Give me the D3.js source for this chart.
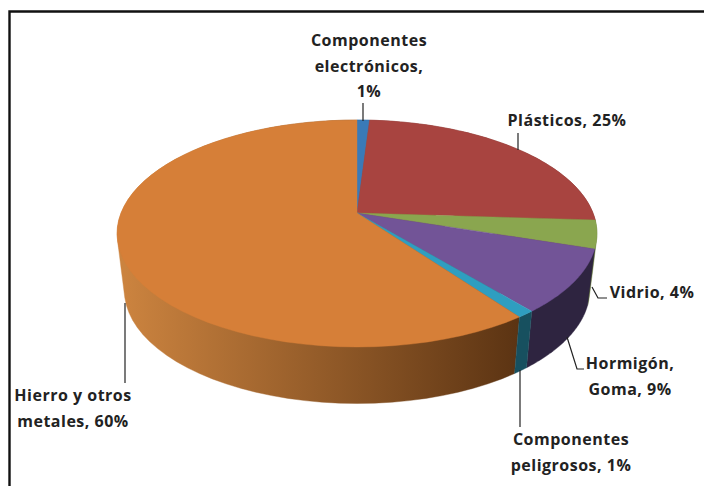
<!DOCTYPE html>
<html><head><meta charset="utf-8">
<script src="https://cdn.jsdelivr.net/npm/d3@7/dist/d3.min.js"></script>
<style>html,body{margin:0;padding:0;background:#fff}svg{display:block}
text{font-family:"Open Sans",sans-serif;font-weight:700;font-size:16px;letter-spacing:.5px;fill:#222;text-anchor:middle}</style>
</head><body><div id="c"></div>
<script>
const categories = ["Componentes electrónicos","Plásticos","Vidrio","Hormigón, Goma","Componentes peligrosos","Hierro y otros metales"];
const values = [1,25,4,9,1,60];
const topColors = ["#3a7ab8","#a84440","#8aa64f","#725497","#2f9ec0","#d67f38"];
const wallStart = ["#2c5c8c","#7a302c","#64783a","#2e2440","#17505f","#cb833f"];
const wallEnd   = ["#2c5c8c","#7a302c","#64783a","#2e2440","#17505f","#5c3413"];
const labelLines = [["Componentes","electrónicos,","1%"],["Plásticos, 25%"],["Vidrio, 4%"],["Hormigón,","Goma, 9%"],["Componentes","peligrosos, 1%"],["Hierro y otros","metales, 60%"]];

const W=704,H=486;
const svg=d3.select("#c").append("svg").attr("width",W).attr("height",H);
svg.append("rect").attr("width",W).attr("height",H).attr("fill","#fff");
svg.append("path").attr("d",`M9.5,${H}V11.5H${W}`).attr("fill","none").attr("stroke","#111").attr("stroke-width",2.4);

// perspective projection of the pie disc
const apex={x:357,y:213},k=0.1806,A=109.8,R=236;
const project=(t,scale,dy)=>{const u=Math.sin(t),v=Math.cos(t),d=1+k*v;
  return [apex.x+scale*R*u/d, apex.y-A*v/d+dy];};
const upper=t=>project(t,1,0), lower=t=>project(t,0.97,56.5);
const pie=d3.pie().sort(null).value(d=>d);
const arcs=pie(values);
const samples=(a,b)=>d3.range(0,61).map(i=>a+(b-a)*i/60);
const line=d3.line();
const defs=svg.append("defs");

// walls, drawn back to front; the hull closes the tangent silhouette at the sides
const order=[1,0,2,5,3,4];
order.forEach(i=>{const a=arcs[i],ts=samples(a.startAngle,a.endAngle);
  const id="w"+i;
  const g=defs.append("linearGradient").attr("id",id).attr("gradientUnits","userSpaceOnUse")
    .attr("x1",125).attr("x2",517).attr("y1",0).attr("y2",0);
  g.append("stop").attr("offset",0).attr("stop-color",wallStart[i]);
  g.append("stop").attr("offset",1).attr("stop-color",wallEnd[i]);
  const hull=d3.polygonHull(ts.map(upper).concat(ts.map(lower)));
  svg.append("path").attr("d",line(hull)+"Z")
    .attr("fill",`url(#${id})`).attr("stroke",`url(#${id})`).attr("stroke-width",0.4);
});
// top face
arcs.forEach((a,i)=>{const ts=samples(a.startAngle,a.endAngle);
  svg.append("path").attr("d",line([[apex.x,apex.y]].concat(ts.map(upper)))+"Z")
    .attr("fill",topColors[i]).attr("stroke",topColors[i]).attr("stroke-width",0.4);
});
// leader lines
const leaders=[[[363,103],[363,121]],[[518,133],[518,150]],[[592,287],[598,298],[607,298]],[[567,337],[577,369],[584,369]],[[520,370],[520,427]],[[125,303],[125,383]]];
leaders.forEach(p=>svg.append("path").attr("d",line(p)).attr("fill","none").attr("stroke","#222").attr("stroke-width",1.2));
// labels
const anchors=[[369,46],[567,126],[652,298],[630,369],[571,445],[73,401]];
labelLines.forEach((ls,i)=>{const t=svg.append("text").attr("x",anchors[i][0]).attr("y",anchors[i][1]);
  ls.forEach((s,j)=>t.append("tspan").attr("x",anchors[i][0]).attr("dy",j?25.5:0).text(s));});
</script></body></html>
